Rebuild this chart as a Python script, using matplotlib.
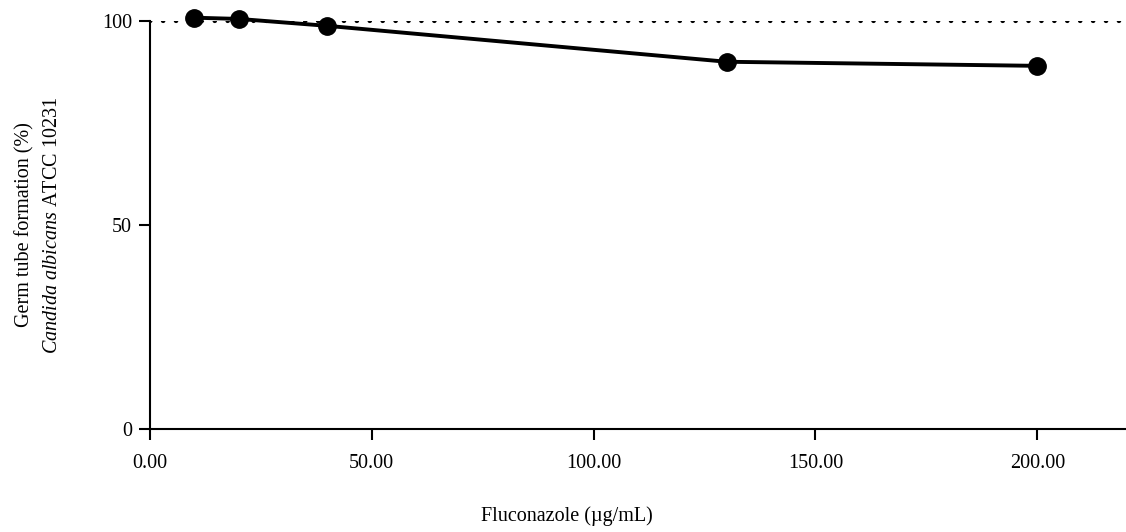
import numpy as np
import matplotlib
matplotlib.use('Agg')
import matplotlib.pyplot as plt

matplotlib.rcParams.update(
    {
        'font.family': 'Liberation Serif',
        'font.size': 14.5,
        'mathtext.fontset': 'custom',
        'mathtext.rm': 'Liberation Serif',
        'mathtext.it': 'Liberation Serif:italic',
        'axes.linewidth': 1.5,
    }
)

conc = [10, 20, 40, 130, 200]
germ_tube = [100.8, 100.5, 98.8, 90.0, 89.0]
reference_level = 100
x_ticks = [0, 50, 100, 150, 200]
y_ticks = [0, 50, 100]

fig = plt.figure(figsize=(11.26, 5.32), dpi=100)
ax = fig.add_axes([0.1332, 0.1936, 0.8668, 0.767])

ax.axhline(reference_level, color='black', lw=3.0, linestyle=(0, (0.1, 3.0)),
           dash_capstyle='round', zorder=1)
ax.plot(conc, germ_tube, '-o', color='black', lw=2.8, markersize=12.5,
        clip_on=False, zorder=3)

ax.set_xlim(0, 220)
ax.set_ylim(0, 100)
ax.set_xticks(x_ticks)
ax.set_xticklabels([f'{v:.2f}' for v in x_ticks])
ax.set_yticks(y_ticks)
ax.tick_params(direction='out', length=8, width=1.5, labelsize=14.5)
ax.tick_params(axis='x', pad=10)
ax.tick_params(axis='y', pad=5)

for side in ['top', 'right']:
    ax.spines[side].set_visible(False)

ax.set_xlabel('Fluconazole (µg/mL)', fontsize=14.5)
ax.xaxis.set_label_coords(0.427, -0.19)
ax.set_ylabel('Germ tube formation (%)\n$Candida\\ albicans$ ATCC 10231',
              fontsize=14.5, linespacing=1.6)
ax.yaxis.set_label_coords(-0.09, 0.5)

fig.savefig('out.png', dpi=100)
